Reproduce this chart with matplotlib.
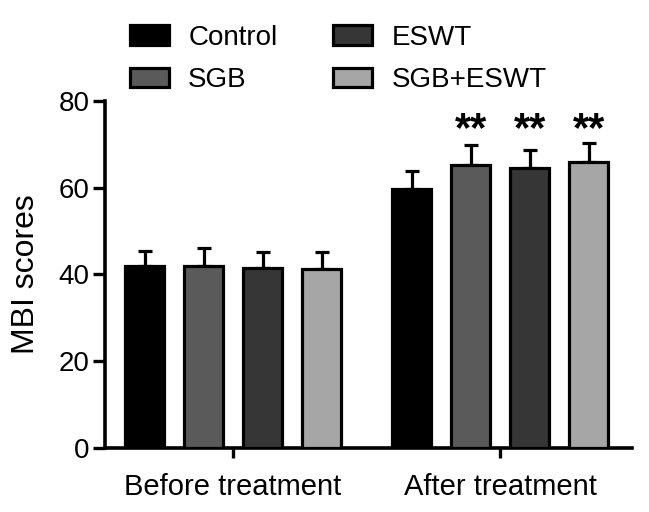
import matplotlib.pyplot as plt
import numpy as np

plt.rcParams['font.family'] = ['Liberation Sans', 'DejaVu Sans']

# data
groups = ['Before treatment', 'After treatment']
series = ['Control', 'SGB', 'ESWT', 'SGB+ESWT']
colors = ['#000000', '#5a5a5a', '#363636', '#a6a6a6']
means = {
    'Control':  [41.9, 59.6],
    'SGB':      [42.0, 65.2],
    'ESWT':     [41.4, 64.6],
    'SGB+ESWT': [41.2, 66.0],
}
sds = {
    'Control':  [3.5, 4.2],
    'SGB':      [4.0, 4.6],
    'ESWT':     [3.8, 4.1],
    'SGB+ESWT': [4.0, 4.2],
}
stars = {
    'Control':  ['', ''],
    'SGB':      ['', '**'],
    'ESWT':     ['', '**'],
    'SGB+ESWT': ['', '**'],
}
star_y = 70.8

fig = plt.figure(figsize=(6.49, 5.12), dpi=100)
ax = fig.add_axes([0.162, 0.125, 0.812, 0.678])

x = np.arange(len(groups))
step = 0.221
width = 0.148
offsets = (np.arange(len(series)) - 1.5) * step

for i, s in enumerate(series):
    pos = x + offsets[i]
    m = np.array(means[s])
    e = np.array(sds[s])
    ax.bar(pos, m, width, color=colors[i], edgecolor='black', linewidth=2.3,
           label=s, zorder=3)
    ax.errorbar(pos, m, yerr=[np.zeros_like(e), e], fmt='none', ecolor='black',
                elinewidth=2.3, capsize=5, capthick=2.3, zorder=2)
    for j, txt in enumerate(stars[s]):
        if txt:
            ax.text(pos[j], star_y, txt, ha='center', va='baseline',
                    fontsize=30, fontweight='bold')

ax.set_xlim(-0.479, 1.494)
ax.set_ylim(0, 80)
ax.set_yticks([0, 20, 40, 60, 80])
ax.set_xticks(x)
ax.set_xticklabels(groups, fontsize=21)
ax.tick_params(axis='y', labelsize=20, length=9, width=2.4, direction='out', pad=2)
ax.tick_params(axis='x', length=7, width=2.4, direction='out', pad=11)
ax.set_ylabel('MBI scores', fontsize=23, labelpad=13)
for sp in ['top', 'right']:
    ax.spines[sp].set_visible(False)
for sp in ['left', 'bottom']:
    ax.spines[sp].set_linewidth(2.6)

ax.legend(ncol=2, loc='upper left', bbox_to_anchor=(0.2, 0.952),
          bbox_transform=fig.transFigure, frameon=False,
          fontsize=20, handlelength=1.4, handleheight=0.7, columnspacing=2.0,
          handletextpad=0.7, labelspacing=0.6, borderpad=0, borderaxespad=0)

fig.savefig('out.png', dpi=100)
